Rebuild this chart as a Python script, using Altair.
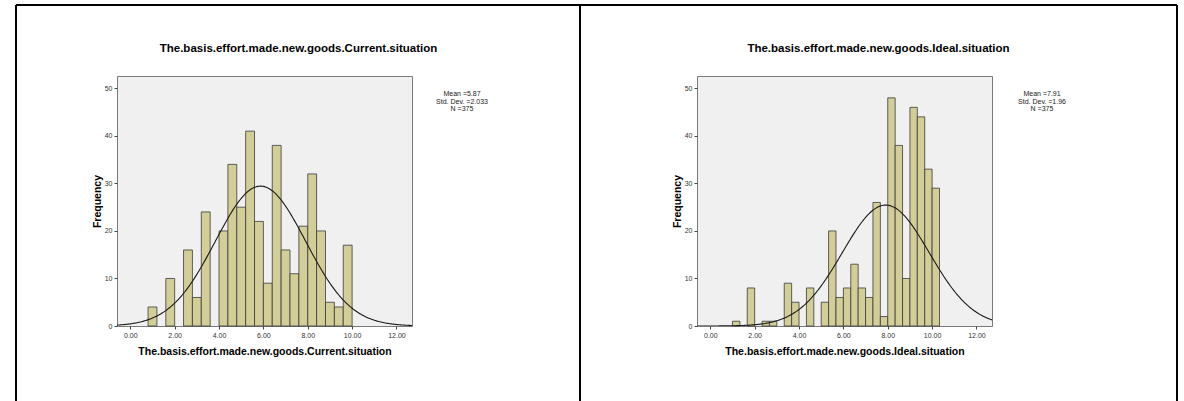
import altair as alt
import pandas as pd

# ---- data ----
titles = [
    "The.basis.effort.made.new.goods.Current.situation",
    "The.basis.effort.made.new.goods.Ideal.situation",
]
bin_starts = [0.8, 1.0]          # first bin edge of each histogram
bin_widths = [0.4, 1 / 3]        # bin width of each histogram
current_counts = [4, 0, 10, 0, 16, 6, 24, 0, 20, 34, 25, 41, 22, 9, 38, 16, 11, 21, 32, 20, 5, 4, 17]
ideal_counts = [1, 0, 8, 0, 1, 1, 0, 9, 5, 0, 8, 0, 5, 20, 6, 8, 13, 8, 6, 26, 2, 48, 38, 10, 46, 44, 33, 29]
means = [5.87, 7.91]
sds = [2.033, 1.96]
ns = [375, 375]
x_ticks = [0, 2, 4, 6, 8, 10, 12]
y_ticks = [0, 10, 20, 30, 40, 50]

FONT = "Liberation Sans"
X_DOMAIN = [-0.6, 12.7]
Y_DOMAIN = [0, 52.6]
PW, PH = 295, 250


def hist_frame(start, width, counts):
    rows = []
    for i, c in enumerate(counts):
        if c > 0:
            rows.append({"start": start + i * width, "end": start + (i + 1) * width, "count": c})
    return pd.DataFrame(rows)


def panel(i, counts, add_borders):
    xs = alt.Scale(domain=X_DOMAIN, nice=False, zero=False)
    ys = alt.Scale(domain=Y_DOMAIN, nice=False, zero=True)
    x_axis = alt.Axis(values=x_ticks, format=".2f", title=titles[i], titlePadding=8)
    y_axis = alt.Axis(values=y_ticks, format="d", title="Frequency", titlePadding=2)

    df = hist_frame(bin_starts[i], bin_widths[i], counts)
    bars = alt.Chart(df).mark_rect(fill="#D3CE97", stroke="#3a3a3a", strokeWidth=0.8).encode(
        x=alt.X("start:Q", scale=xs, axis=x_axis),
        x2="end:Q",
        y=alt.Y("count:Q", scale=ys, axis=y_axis),
        y2=alt.datum(0),
    )

    k = ns[i] * bin_widths[i]
    curve = (
        alt.Chart(alt.sequence(X_DOMAIN[0], X_DOMAIN[1] + 0.01, 0.05, as_="start"))
        .transform_calculate(
            count=f"{k} * exp(-0.5 * pow((datum.start - {means[i]}) / {sds[i]}, 2)) / ({sds[i]} * sqrt(2 * PI))"
        )
        .mark_line(color="#1a1a1a", strokeWidth=1.1, clip=True)
        .encode(
            x=alt.X("start:Q", scale=xs, axis=x_axis),
            y=alt.Y("count:Q", scale=ys, axis=y_axis),
        )
    )

    one = pd.DataFrame({"k": [0]})
    stats_text = f"Mean ={means[i]}\nStd. Dev. ={sds[i]}\nN ={ns[i]}"
    stats = alt.Chart(one).mark_text(
        align="center", baseline="top", font=FONT, fontSize=7, lineHeight=7.5,
        color="#222222", lineBreak="\n",
    ).encode(x=alt.value(345), y=alt.value(14), text=alt.value(stats_text))

    title = alt.Chart(one).mark_text(
        align="center", baseline="alphabetic", font=FONT, fontSize=11.5, fontWeight="bold",
        color="black",
    ).encode(x=alt.value(PW / 2 + 34), y=alt.value(-24), text=alt.value(titles[i]))

    layers = [bars, curve, stats, title]

    if add_borders:
        base = alt.Chart(one).mark_rule(color="black", strokeWidth=2)
        top = base.encode(x=alt.value(-101), x2=alt.value(1060), y=alt.value(-71))
        v_left = base.encode(x=alt.value(-101), y=alt.value(-71), y2=alt.value(345))
        v_mid = base.encode(x=alt.value(463), y=alt.value(-71), y2=alt.value(345))
        v_right = base.encode(x=alt.value(1060), y=alt.value(-71), y2=alt.value(345))
        layers += [top, v_left, v_mid, v_right]

    return alt.layer(*layers).properties(width=PW, height=PH)


left = panel(0, current_counts, True)
right = panel(1, ideal_counts, False)

chart = (
    alt.hconcat(left, right, spacing=285, bounds="flush")
    .properties(
        padding={"left": 14, "top": 3, "right": 0, "bottom": 0},
        autosize=alt.AutoSizeParams(type="pad"),
        background="white",
    )
    .configure_view(stroke="#7a7a7a", strokeWidth=1, fill="#f0f0f0")
    .configure_axis(
        labelFont=FONT, labelFontSize=7, labelColor="#333333",
        titleFont=FONT, titleFontSize=10.5, titleFontWeight="bold", titleColor="#000000",
        tickColor="#444444", tickSize=3, labelPadding=2, domain=False, grid=False,
    )
)

chart.save("out.html", embed_options={"renderer": "svg", "actions": False})
